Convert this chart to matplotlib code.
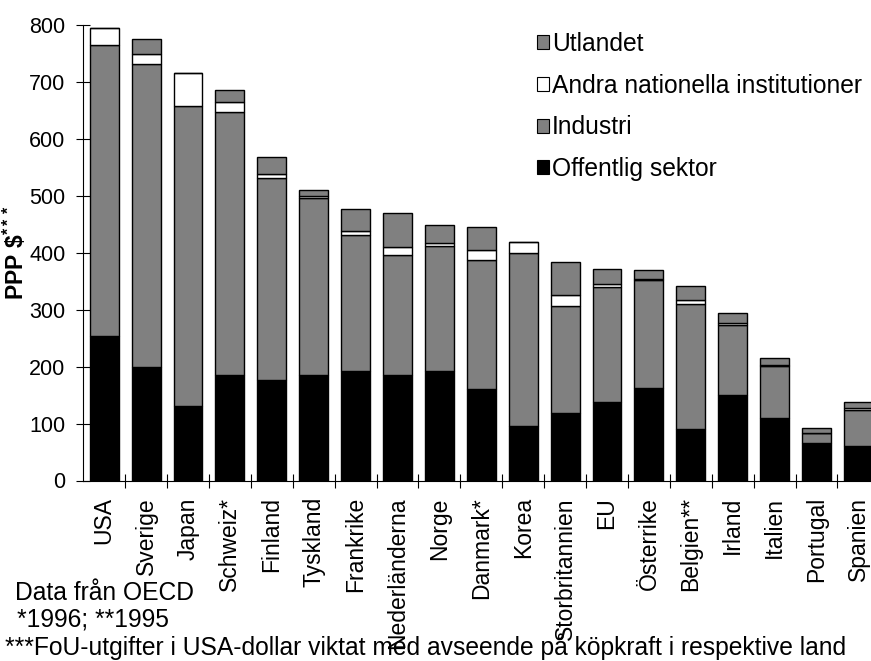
import matplotlib
matplotlib.use("Agg")
import matplotlib.pyplot as plt
from matplotlib.patches import Rectangle
import numpy as np

plt.rcParams['font.family'] = ['Liberation Sans', 'DejaVu Sans']
plt.rcParams['mathtext.fontset'] = 'custom'
plt.rcParams['mathtext.rm'] = 'Liberation Sans'
plt.rcParams['mathtext.bf'] = 'Liberation Sans:bold'

countries = ["USA", "Sverige", "Japan", "Schweiz*", "Finland", "Tyskland",
             "Frankrike", "Nederländerna", "Norge", "Danmark*", "Korea",
             "Storbritannien", "EU", "Österrike", "Belgien**", "Irland",
             "Italien", "Portugal", "Spanien"]

# R&D expenditure per capita (PPP $) by source of funding
offentlig = [254, 200, 130, 185, 176, 185, 192, 185, 193, 161, 96, 118, 138, 162, 90, 151, 110, 65, 61]
industri = [510, 532, 527, 462, 356, 312, 239, 211, 219, 226, 303, 189, 201, 190, 220, 122, 91, 18, 62]
andra = [30, 17, 59, 18, 6, 3, 7, 14, 6, 17, 20, 19, 6, 2, 7, 4, 2, 1, 4]
utlandet = [0, 26, 0, 21, 31, 11, 38, 59, 31, 41, 0, 57, 26, 15, 25, 18, 12, 9, 10]

yticks = [0, 100, 200, 300, 400, 500, 600, 700, 800]

FS = 17.7
W, H = 871, 661
fig = plt.figure(figsize=(W / 100, H / 100), dpi=100)
ax = fig.add_axes([83.3 / W, 1 - 480.5 / H, 796 / W, 455.5 / H])

x = np.arange(len(countries))
width = 0.69
grey = "#808080"
edge = dict(edgecolor="black", linewidth=1.0)

b1 = ax.bar(x, offentlig, width, color="black", **edge)
bottom = np.array(offentlig)
b2 = ax.bar(x, industri, width, bottom=bottom, color=grey, **edge)
bottom = bottom + np.array(industri)
b3 = ax.bar(x, andra, width, bottom=bottom, color="white", **edge)
bottom = bottom + np.array(andra)
b4 = ax.bar(x, utlandet, width, bottom=bottom, color=grey, **edge)

ax.set_xlim(-0.5, len(countries) - 0.5)
ax.set_ylim(0, 800)
ax.set_yticks(yticks)
ax.tick_params(axis="y", direction="inout", length=9.6, width=0.8,
               labelsize=15.5, pad=8)

# boundary ticks on the x axis, labels centred under each bar
ax.set_xticks(np.arange(len(countries)) + 0.5)
ax.set_xticklabels([])
ax.set_xticks(x, minor=True)
ax.set_xticklabels(countries, minor=True, rotation=90, fontsize=16.5)
ax.tick_params(axis="x", which="major", direction="inout", length=10, width=0.8)
ax.tick_params(axis="x", which="minor", length=0, pad=12)

for s in ["top", "right"]:
    ax.spines[s].set_visible(False)
for s in ["left", "bottom"]:
    ax.spines[s].set_linewidth(0.8)

ax.set_ylabel(r"PPP \$$^{\mathbf{***}}$", fontsize=16.5, fontweight="bold")
ax.yaxis.set_label_coords(-0.068, 0.5)

handles = [Rectangle((0, 0), 1, 1, facecolor=c, edgecolor="black", linewidth=0.8)
           for c in [grey, "white", grey, "black"]]
labels = ["Utlandet", "Andra nationella institutioner", "Industri", "Offentlig sektor"]
fig.legend(handles, labels, loc="upper left", bbox_to_anchor=(537 / W, 1 - 32 / H),
           frameon=False, fontsize=FS, handlelength=0.5, handleheight=0.5,
           handletextpad=0.12, labelspacing=0.72, borderpad=0, borderaxespad=0)

fig.text(15 / W, 1 - 593 / H, "Data från OECD", fontsize=FS, va="center")
fig.text(17 / W, 1 - 620 / H, "*1996; **1995", fontsize=FS, va="center")
fig.text(5 / W, 1 - 647 / H,
         "***FoU-utgifter i USA-dollar viktat med avseende på köpkraft i respektive land",
         fontsize=FS, va="center")

fig.savefig("out.png", dpi=100)
